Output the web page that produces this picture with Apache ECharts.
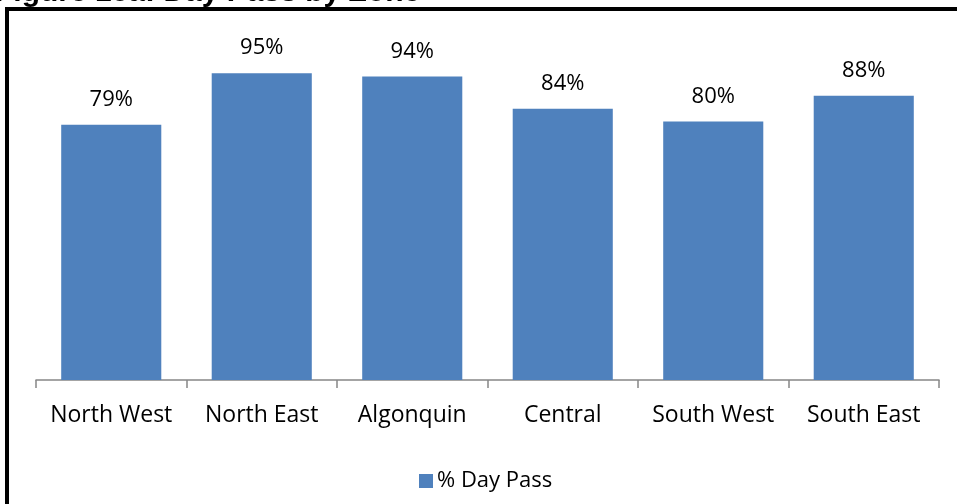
<!DOCTYPE html>
<html>
<head>
<meta charset="utf-8">
<script src="https://cdn.jsdelivr.net/npm/echarts@6/dist/echarts.min.js"></script>
<style>
html,body{margin:0;padding:0;background:#fff;}
#c{width:957px;height:504px;}
</style>
</head>
<body>
<div id="c"></div>
<script>
const titleText = "Figure 10a: Day Pass by Zone";
const categories = ["North West", "North East", "Algonquin", "Central", "South West", "South East"];
const seriesName = "% Day Pass";
const dayPass = [79, 95, 94, 84, 80, 88];

const chart = echarts.init(document.getElementById('c'), null, {renderer: 'canvas'});
const font = '"Open Sans", "Noto Sans", sans-serif';
chart.setOption({
  animation: false,
  backgroundColor: '#ffffff',
  graphic: [
    {
      type: 'text', left: -5, top: -22, z: 10,
      style: {text: titleText, font: 'bold 30px "Liberation Sans", Arial, sans-serif', fill: '#000'}
    },
    {
      type: 'rect', z: 5, silent: true,
      shape: {x: 7, y: 9, width: 1200, height: 800},
      style: {fill: 'none', stroke: '#000', lineWidth: 4}
    }
  ],
  legend: {
    data: [seriesName],
    left: 414, top: 465,
    icon: 'rect', itemWidth: 14, itemHeight: 14, itemGap: 8,
    textStyle: {fontFamily: font, fontSize: 22, color: '#000', padding: [0,0,0,-1]}
  },
  grid: {left: 36, right: 18, top: 57, bottom: 124, containLabel: false},
  xAxis: {
    type: 'category', data: categories,
    axisLine: {lineStyle: {color: '#868686', width: 1.5}},
    axisTick: {show: true, interval: 0, length: 8, alignWithLabel: false, lineStyle: {color: '#868686', width: 1.5}},
    axisLabel: {interval: 0, hideOverlap: false, fontFamily: font, fontSize: 23, color: '#000', margin: 24}
  },
  yAxis: {type: 'value', min: 0, max: 100, show: false, splitLine: {show: false}},
  series: [{
    name: seriesName, type: 'bar', data: dayPass,
    barWidth: '66.5%',
    itemStyle: {color: '#4F81BD'},
    label: {show: true, position: 'top', distance: 14, formatter: '{c}%',
      fontFamily: font, fontSize: 22, color: '#000'}
  }]
});
</script>
</body>
</html>
